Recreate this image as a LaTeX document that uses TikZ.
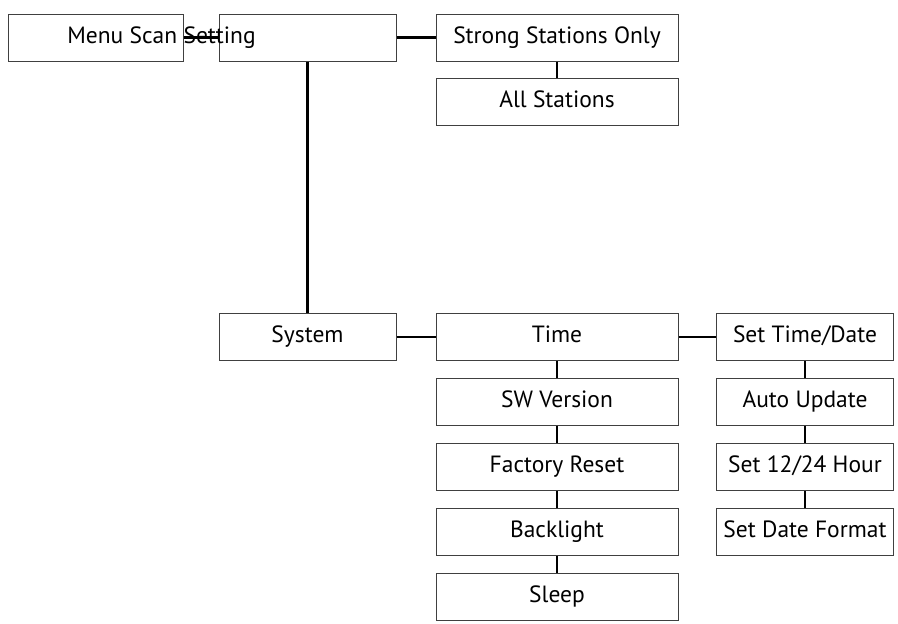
\documentclass[tikz,border=0pt]{standalone}
\usepackage{fontspec}
\setmainfont{PT Sans}

\tikzset{
    menufont/.style={font=\fontsize{23.5}{28}\selectfont, text height=16pt, text depth=5pt},
    menubox/.style={draw=black!75, line width=1pt, minimum width=177pt, minimum height=47pt, inner sep=0pt, menufont},
    widebox/.style={menubox, minimum width=242pt},
    link/.style={line width=2.4pt}
}

\begin{document}
\begin{tikzpicture}[x=1pt, y=-1pt]

\useasboundingbox (0,0) rectangle (898,624);

% Top row
\node[menubox, minimum width=175pt] (menu) at (95.5,37.5) {};
\node[menubox] (scan) at (307.5,37.5) {};
\draw[link] (menu) -- (scan);
\node[menufont, inner sep=0pt] (menulabel) at (161.5,37.5) {Menu Scan Setting};

% Scan options
\node[widebox] (strong) at (557,37.5) {Strong Stations Only};
\node[widebox] (all) at (557,102) {All Stations};
\draw[link] (scan) -- (strong);
\draw[link] (strong) -- (all);

% System branch
\node[menubox] (system) at (307.5,337) {System};
\draw[link] (scan) -- (system);
\node[widebox] (t0) at (557,337) {Time};
\draw[link] (system) -- (t0);
\foreach \label [count=\i] in {SW Version, Factory Reset, Backlight, Sleep} {
    \node[widebox] (t\i) at (557,337+65*\i) {\label};
}
\foreach \i [count=\j from 0] in {1,2,3,4} {
    \draw[link] (t\j) -- (t\i);
}

% Time settings
\node[menubox] (d0) at (805,337) {Set Time/Date};
\draw[link] (t0) -- (d0);
\foreach \label [count=\i] in {Auto Update, Set 12/24 Hour, Set Date Format} {
    \node[menubox] (d\i) at (805,337+65*\i) {\label};
}
\foreach \i [count=\j from 0] in {1,2,3} {
    \draw[link] (d\j) -- (d\i);
}

\end{tikzpicture}
\end{document}
